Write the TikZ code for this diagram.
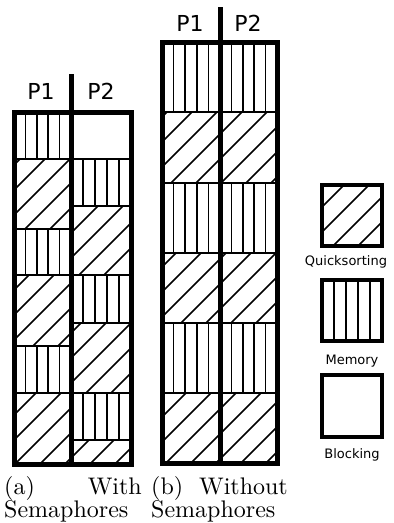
\documentclass[tikz,border=0pt]{standalone}
\usepackage{fontspec}
\newfontfamily\dvs{DejaVu Sans}
\newcommand{\captxt}[1]{\scalebox{2.4}{\fontsize{10}{12}\selectfont #1}}
\tikzset{
  hatch/.style={line width=1.5pt, black},
  seg/.style={line width=2pt, black},
  outer/.style={line width=5pt, black},
  legbox/.style={line width=4pt, black},
  plabel/.style={font=\fontsize{22}{26}\dvs\selectfont, anchor=base, inner sep=0pt},
  leglabel/.style={font=\fontsize{13}{15}\dvs\selectfont, anchor=base, inner sep=0pt},
  capw/.style={anchor=base west, inner sep=0pt},
  cape/.style={anchor=base east, inner sep=0pt},
}
\newcommand{\qblk}[4]{%
  \begin{scope}
    \clip (#1,#3) rectangle (#2,#4);
    \foreach \k in {0,...,31}{%
      \pgfmathsetmacro\cc{4+25*\k}
      \draw[hatch] ({\cc-#3},#3) -- ({\cc-#4},#4);
    }
  \end{scope}
  \draw[seg] (#1,#3) rectangle (#2,#4);
}
\newcommand{\mblk}[4]{%
  \foreach \i in {1,...,4}{%
    \draw[hatch] ({#1+\i*(#2-#1)/5},#3) -- ({#1+\i*(#2-#1)/5},#4);
  }
  \draw[seg] (#1,#3) rectangle (#2,#4);
}
\begin{document}
\begin{tikzpicture}[x=1pt,y=-1pt]
\useasboundingbox (0,0) rectangle (394,523);
% ---------- (a) with semaphores ----------
% left column P1
\mblk{14}{71}{112}{159}
\qblk{14}{71}{159}{229}
\mblk{14}{71}{229}{275}
\qblk{14}{71}{275}{346}
\mblk{14}{71}{346}{393}
\qblk{14}{71}{393}{464}
% right column P2
\draw[seg] (71,112) rectangle (131,159);
\mblk{71}{131}{159}{206}
\qblk{71}{131}{206}{275}
\mblk{71}{131}{275}{323}
\qblk{71}{131}{323}{393}
\mblk{71}{131}{393}{440}
\qblk{71}{131}{440}{464}
\draw[outer] (14,112) rectangle (131,464);
\draw[outer] (71,74) -- (71,464);
\node[plabel] (pa1) at (41,99) {P1};
\node[plabel] (pa2) at (101,99) {P2};
% ---------- (b) without semaphores ----------
\mblk{162}{220}{42}{112}
\qblk{162}{220}{112}{183}
\mblk{162}{220}{183}{253}
\qblk{162}{220}{253}{323}
\mblk{162}{220}{323}{393}
\qblk{162}{220}{393}{463}
\mblk{220}{277}{42}{112}
\qblk{220}{277}{112}{183}
\mblk{220}{277}{183}{253}
\qblk{220}{277}{253}{323}
\mblk{220}{277}{323}{393}
\qblk{220}{277}{393}{463}
\draw[outer] (162,42) rectangle (277,463);
\draw[outer] (220,7) -- (220,463);
\node[plabel] (pb1) at (190,31) {P1};
\node[plabel] (pb2) at (248,31) {P2};
% ---------- legend ----------
\begin{scope}
  \clip (322,185) rectangle (382,246);
  \foreach \k in {0,...,31}{%
    \pgfmathsetmacro\cc{4+25*\k}
    \draw[hatch] ({\cc-185},185) -- ({\cc-246},246);
  }
\end{scope}
\draw[legbox] (322,185) rectangle (382,246);
\node[leglabel] (lq) at (346,265) {Quicksorting};
\foreach \i in {1,...,4}{\draw[hatch] ({322+12*\i},280) -- ({322+12*\i},341);}
\draw[legbox] (322,280) rectangle (382,341);
\node[leglabel] (lm) at (352,364) {Memory};
\draw[legbox] (322,375) rectangle (382,437);
\node[leglabel] (lb) at (352,458) {Blocking};
% ---------- captions ----------
\node[capw] (ca1) at (4,494) {\captxt{(a)}};
\node[cape] (ca2) at (142,494) {\captxt{With}};
\node[capw] (ca3) at (4,517) {\captxt{Semaphores}};
\node[capw] (cb1) at (151,494) {\captxt{(b)}};
\node[cape] (cb2) at (288,494) {\captxt{Without}};
\node[capw] (cb3) at (151,517) {\captxt{Semaphores}};
\end{tikzpicture}
\end{document}
